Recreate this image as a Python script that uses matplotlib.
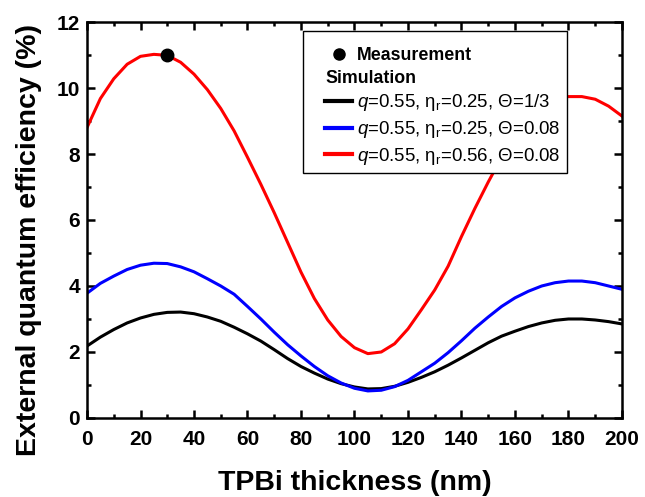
import numpy as np
import matplotlib.pyplot as plt
from matplotlib.lines import Line2D
from matplotlib.legend_handler import HandlerLine2D
from matplotlib.ticker import MultipleLocator

plt.rcParams['font.family'] = ['Liberation Sans', 'DejaVu Sans']
plt.rcParams['mathtext.fontset'] = 'custom'
plt.rcParams['mathtext.rm'] = 'Liberation Sans'
plt.rcParams['mathtext.it'] = 'Liberation Sans:italic'
plt.rcParams['mathtext.bf'] = 'Liberation Sans:bold'

# TPBi thickness grid (nm) and simulated EQE (%)
thickness = np.arange(0, 201, 5)

eqe_theta_third = [2.18, 2.45, 2.68, 2.88, 3.03, 3.14, 3.20, 3.21, 3.16, 3.06,
                   2.93, 2.75, 2.55, 2.33, 2.07, 1.80, 1.56, 1.36, 1.18, 1.04,
                   0.94, 0.88, 0.89, 0.96, 1.08, 1.23, 1.40, 1.60, 1.82, 2.05,
                   2.28, 2.48, 2.63, 2.77, 2.88, 2.96, 3.00, 3.00, 2.97, 2.92,
                   2.85]

eqe_theta_008 = [3.78, 4.08, 4.30, 4.50, 4.63, 4.69, 4.68, 4.58, 4.43, 4.22,
                 4.00, 3.75, 3.38, 3.00, 2.60, 2.22, 1.88, 1.56, 1.28, 1.06,
                 0.90, 0.82, 0.84, 0.95, 1.14, 1.40, 1.66, 1.98, 2.34, 2.72,
                 3.06, 3.38, 3.64, 3.84, 4.00, 4.10, 4.15, 4.15, 4.10, 4.00,
                 3.90]

eqe_eta056 = [8.80, 9.68, 10.28, 10.72, 10.96, 11.02, 10.99, 10.78, 10.42, 9.95,
              9.38, 8.70, 7.90, 7.08, 6.22, 5.32, 4.42, 3.62, 2.97, 2.47,
              2.13, 1.95, 2.00, 2.25, 2.70, 3.28, 3.88, 4.60, 5.50, 6.35,
              7.15, 7.90, 8.55, 9.12, 9.55, 9.72, 9.74, 9.74, 9.66, 9.45,
              9.15]

# measured device
meas_thickness = [30]
meas_eqe = [11.0]

labels = [r'$q$=0.55, η$_{\rm r}$=0.25, Θ=1/3',
          r'$q$=0.55, η$_{\rm r}$=0.25, Θ=0.08',
          r'$q$=0.55, η$_{\rm r}$=0.56, Θ=0.08']
colors = ['black', '#0000ff', '#ff0000']

leg_fs = 13.4
seg = 1.45   # visible handle length (em)


class ShortLineHandler(HandlerLine2D):
    # draw only the right part of the handle box, leaving a left margin
    def get_xdata(self, legend, xdescent, ydescent, width, height, fontsize):
        s = seg * fontsize
        x1 = -xdescent + width
        return [x1 - s, x1], [x1 - s / 2]


fig = plt.figure(figsize=(6.45, 4.97), dpi=100)
ax = fig.add_axes([0.1349, 0.159, 0.8294, 0.7967])

for y, c in zip([eqe_theta_third, eqe_theta_008, eqe_eta056], colors):
    ax.plot(thickness, y, color=c, lw=2.2)
ax.plot(meas_thickness, meas_eqe, 'o', color='black', ms=9, zorder=5)

ax.set_xlim(0, 200)
ax.set_ylim(0, 12)
ax.xaxis.set_major_locator(MultipleLocator(20))
ax.xaxis.set_minor_locator(MultipleLocator(10))
ax.yaxis.set_major_locator(MultipleLocator(2))
ax.yaxis.set_minor_locator(MultipleLocator(1))
ax.tick_params(which='both', direction='in', top=True, right=True, width=1.8)
ax.tick_params(which='major', length=6, labelsize=15, pad=5)
ax.tick_params(axis='x', which='major', pad=9)
ax.tick_params(which='minor', length=3)
for lab in ax.get_xticklabels() + ax.get_yticklabels():
    lab.set_fontweight('bold')
for sp in ax.spines.values():
    sp.set_linewidth(1.8)

ax.set_xlabel('TPBi thickness (nm)', fontsize=20.5, fontweight='bold', labelpad=15)
ax.set_ylabel('External quantum efficiency (%)', fontsize=20.5, fontweight='bold')
ax.yaxis.set_label_coords(-0.085, 0.45)

handles = [Line2D([], [], ls='none', marker='o', color='black', ms=8),
           Line2D([], [], ls='none')]
handles += [Line2D([], [], color=c, lw=3) for c in colors]
# blank tiny title leaves extra room above the first row
leg = ax.legend(handles, ['Measurement', 'Simulation'] + labels,
                loc='upper right', bbox_to_anchor=(0.897, 0.977), borderaxespad=0,
                fontsize=leg_fs, handlelength=2.3, handletextpad=0.25,
                labelspacing=0.3, fancybox=False, edgecolor='black',
                framealpha=1, borderpad=0.35, title=' ', title_fontsize=3,
                handler_map={Line2D: ShortLineHandler()})
leg.get_frame().set_linewidth(1.0)
txts = leg.get_texts()
txts[0].set_fontweight('bold')
txts[0].set_fontsize(12.8)
txts[1].set_fontweight('bold')
txts[1].set_fontsize(12.8)
# pull "Simulation" back to where the handle lines start
shift = (seg + 0.25) * leg_fs * fig.dpi / 72
txts[1].set_x(-shift)

fig.savefig('out.png', dpi=100)
